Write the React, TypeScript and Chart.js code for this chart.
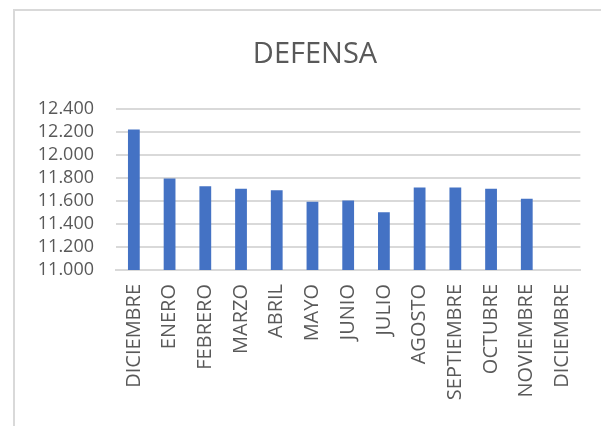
import React, { useEffect, useRef } from "react";
import { Chart, registerables } from "chart.js";

Chart.register(...registerables);

const TITLE = "DEFENSA";
const MONTHS = [
  "DICIEMBRE", "ENERO", "FEBRERO", "MARZO", "ABRIL", "MAYO", "JUNIO",
  "JULIO", "AGOSTO", "SEPTIEMBRE", "OCTUBRE", "NOVIEMBRE", "DICIEMBRE",
];
const VALUES: (number | null)[] = [
  12220, 11795, 11728, 11705, 11693, 11592, 11603, 11502, 11716, 11716, 11705, 11618, null,
];
const Y_MIN = 11000;
const Y_MAX = 12400;
const Y_STEP = 200;

const FONT = "'Open Sans', sans-serif";
const TEXT = "#595959";
const GRID = "#d9d9d9";
const BAR = "#4472C4";

function fmt(v: number): string {
  const s = Math.round(v).toString();
  return s.replace(/\B(?=(\d{3})+(?!\d))/g, ".");
}

const titleShift = {
  id: "titleShift",
  afterLayout(chart: any) {
    const t = chart.titleBlock;
    if (t) {
      t.left = 42;
      t.width = t.right - t.left;
    }
  },
};

export default function App() {
  const ref = useRef<HTMLCanvasElement | null>(null);
  useEffect(() => {
    if (!ref.current) return;
    const chart = new Chart(ref.current, {
      type: "bar",
      data: {
        labels: MONTHS,
        datasets: [
          {
            data: VALUES,
            backgroundColor: BAR,
            borderWidth: 0,
            categoryPercentage: 1,
            barPercentage: 0.33,
          },
        ],
      },
      options: {
        animation: false,
        responsive: false,
        layout: { padding: { left: 0, right: 13, top: 0, bottom: 0 } },
        plugins: {
          legend: { display: false },
          tooltip: { enabled: false },
          title: {
            display: true,
            text: TITLE,
            color: TEXT,
            font: { family: FONT, size: 29, weight: "normal" },
            padding: { top: 37, bottom: 37 },
          },
        },
        scales: {
          x: {
            grid: { display: false, drawTicks: false },
            border: { display: true, color: GRID, width: 2 },
            ticks: {
              color: TEXT,
              font: { family: FONT, size: 20 },
              minRotation: 90,
              maxRotation: 90,
              autoSkip: false,
              padding: 14,
            },
            afterFit: (s: any) => {
              s.height = 156;
            },
          },
          y: {
            min: Y_MIN,
            max: Y_MAX,
            grid: { color: GRID, lineWidth: 2, drawTicks: false },
            border: { display: false },
            ticks: {
              stepSize: Y_STEP,
              autoSkip: false,
              color: TEXT,
              font: { family: FONT, size: 18 },
              padding: 22,
              callback: (v: any) => fmt(Number(v)),
            },
            afterFit: (s: any) => {
              s.width = 116;
            },
          },
        },
      },
      plugins: [titleShift],
    });
    return () => chart.destroy();
  }, []);
  return (
    <div style={{ position: "fixed", left: 0, top: 0, width: 601, height: 426, background: "#fff", overflow: "hidden" }}>
      <div
        style={{
          position: "absolute",
          left: 13,
          top: 9,
          width: 620,
          height: 440,
          border: "2px solid #d9d9d9",
          boxSizing: "border-box",
        }}
      />
      <canvas ref={ref} width={601} height={426} style={{ position: "absolute", left: 0, top: 0 }} />
    </div>
  );
}
